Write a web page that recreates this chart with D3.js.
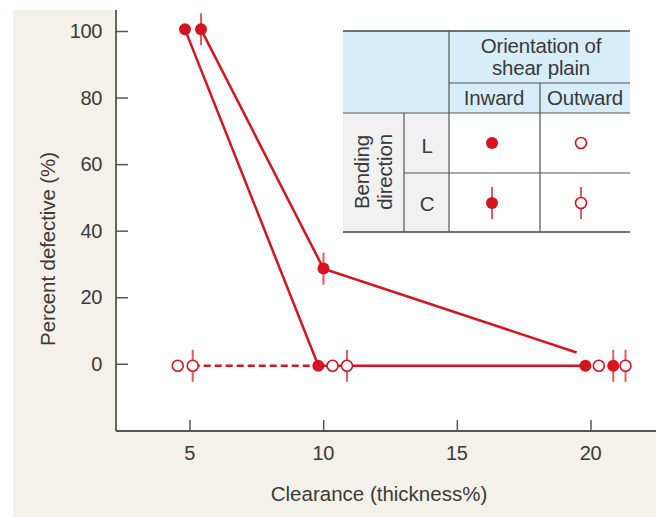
<!DOCTYPE html>
<html>
<head>
<meta charset="utf-8">
<script src="https://cdn.jsdelivr.net/npm/d3@7"></script>
<style>
  html, body { margin: 0; padding: 0; background: #fff; }
  text { font-family: "Liberation Sans", Arial, sans-serif; fill: #3a3a3a; }
</style>
</head>
<body>
<div id="chart"></div>
<script>
// ---- datos ----
const xTicks = [5, 10, 15, 20];
const yTicks = [0, 20, 40, 60, 80, 100];

// [clearance, percent defective]
const inwardL = [[4.83, 100.5], [9.82, -0.6], [19.81, -0.6]];
const inwardC = [[5.43, 100.5], [10.01, 28.6], [20.85, -0.6]];
const inwardCLine = [[5.43, 100.5], [10.01, 28.6], [19.48, 3.4]];
const outwardL = [[4.56, -0.6], [10.35, -0.6], [20.31, -0.6]];
const outwardC = [[5.12, -0.6], [10.89, -0.6], [21.31, -0.6]];
const dashedLine = [[5.12, -0.6], [9.82, -0.6]];

const width = 656;
const height = 517;
const red = "#d4151f";
const barRed = "#e45a66";

const svg = d3.select("#chart")
  .append("svg")
  .attr("width", width)
  .attr("height", height);

// fondo beige y área blanca del gráfico
svg.append("rect")
  .attr("x", 13).attr("y", 10)
  .attr("width", width - 13).attr("height", height - 10)
  .attr("fill", "#f4f1ea");

const plot = { left: 116, right: 656, top: 0, bottom: 431 };

svg.append("rect")
  .attr("x", plot.left).attr("y", plot.top)
  .attr("width", plot.right - plot.left).attr("height", plot.bottom - plot.top)
  .attr("fill", "#fff");

// escalas
const x = d3.scaleLinear().domain([2.25, 22.45]).range([plot.left, plot.right]);
const y = d3.scaleLinear().domain([-20.2, 100]).range([plot.bottom, 31]);

// ejes (marcas hacia dentro)
const yAxis = d3.axisRight(y).tickValues(yTicks).tickSize(12).tickFormat("");
svg.append("g")
  .attr("transform", `translate(${plot.left},0)`)
  .call(yAxis)
  .call(g => g.select(".domain").remove())
  .selectAll("line").attr("stroke", "#555").attr("stroke-width", 1.5);

const xAxis = d3.axisTop(x).tickValues(xTicks).tickSize(11).tickFormat("");
svg.append("g")
  .attr("transform", `translate(0,${plot.bottom})`)
  .call(xAxis)
  .call(g => g.select(".domain").remove())
  .selectAll("line").attr("stroke", "#555").attr("stroke-width", 1.5);

svg.append("line")
  .attr("x1", plot.left).attr("x2", plot.left)
  .attr("y1", 10).attr("y2", plot.bottom)
  .attr("stroke", "#555").attr("stroke-width", 1.8);
svg.append("line")
  .attr("x1", plot.left).attr("x2", plot.right)
  .attr("y1", plot.bottom).attr("y2", plot.bottom)
  .attr("stroke", "#555").attr("stroke-width", 1.8);

// etiquetas de los ejes
svg.selectAll(".ylab")
  .data(yTicks)
  .join("text")
  .attr("x", 102)
  .attr("y", d => y(d))
  .attr("dy", "0.35em")
  .attr("text-anchor", "end")
  .attr("font-size", 20)
  .attr("letter-spacing", -0.4)
  .text(d => d);

svg.selectAll(".xlab")
  .data(xTicks)
  .join("text")
  .attr("x", d => x(d))
  .attr("y", 460)
  .attr("text-anchor", "middle")
  .attr("font-size", 20)
  .attr("letter-spacing", -0.4)
  .text(d => d);

svg.append("text")
  .attr("x", 379).attr("y", 501)
  .attr("text-anchor", "middle")
  .attr("font-size", 20.5)
  .text("Clearance (thickness%)");

svg.append("text")
  .attr("transform", "translate(55,249) rotate(-90)")
  .attr("text-anchor", "middle")
  .attr("font-size", 20.5)
  .attr("letter-spacing", -0.1)
  .text("Percent defective (%)");

// líneas
const line = d3.line().x(d => x(d[0])).y(d => y(d[1]));

svg.append("path").attr("d", line(inwardL))
  .attr("fill", "none").attr("stroke", red).attr("stroke-width", 2.5);
svg.append("path").attr("d", line(inwardCLine))
  .attr("fill", "none").attr("stroke", red).attr("stroke-width", 2.5);
svg.append("path").attr("d", line(dashedLine))
  .attr("fill", "none").attr("stroke", red).attr("stroke-width", 2.5)
  .attr("stroke-dasharray", "7,4");

// marcadores
function drawMarkers(g, data, filled, bar) {
  const sel = g.selectAll(null).data(data).join("g")
    .attr("transform", d => `translate(${x(d[0])},${y(d[1])})`);
  if (bar) {
    sel.append("line")
      .attr("y1", -16).attr("y2", 16)
      .attr("stroke", barRed).attr("stroke-width", 2);
  }
  sel.append("circle")
    .attr("r", filled ? 6 : 5.5)
    .attr("fill", filled ? red : "#fff")
    .attr("stroke", red)
    .attr("stroke-width", filled ? 0 : 1.6);
}

const marks = svg.append("g");
drawMarkers(marks, outwardL, false, false);
drawMarkers(marks, outwardC, false, true);
drawMarkers(marks, inwardL, true, false);
drawMarkers(marks, inwardC, true, true);

// ---- leyenda en forma de tabla ----
const lg = svg.append("g");
lg.append("rect").attr("x", 343).attr("y", 31).attr("width", 287).attr("height", 82).attr("fill", "#d7edf9");
lg.append("rect").attr("x", 343).attr("y", 113).attr("width", 106).attr("height", 119).attr("fill", "#f1f1f1");

const gridLines = [
  [343, 31, 630, 31, "#444", 1.5],
  [343, 113, 630, 113, "#555", 1.2],
  [343, 232, 630, 232, "#444", 1.5],
  [449, 83, 630, 83, "#555", 1.2],
  [404, 173, 630, 173, "#555", 1.2],
  [449, 31, 449, 232, "#555", 1.2],
  [540, 83, 540, 232, "#555", 1.2],
  [404, 113, 404, 232, "#555", 1.2]
];
lg.selectAll("line").data(gridLines).join("line")
  .attr("x1", d => d[0]).attr("y1", d => d[1])
  .attr("x2", d => d[2]).attr("y2", d => d[3])
  .attr("stroke", d => d[4]).attr("stroke-width", d => d[5]);

const legTexts = [
  ["Orientation of", 541, 53],
  ["shear plain", 541, 75],
  ["Inward", 494, 105],
  ["Outward", 585, 105],
  ["L", 427, 153],
  ["C", 427, 211]
];
lg.selectAll(".lt").data(legTexts).join("text")
  .attr("x", d => d[1]).attr("y", d => d[2])
  .attr("text-anchor", "middle")
  .attr("font-size", 20.5)
  .attr("letter-spacing", -0.2)
  .text(d => d[0]);

lg.append("text")
  .attr("transform", "translate(369,172) rotate(-90)")
  .attr("text-anchor", "middle").attr("font-size", 20.5).attr("letter-spacing", -0.2)
  .text("Bending");
lg.append("text")
  .attr("transform", "translate(392,172) rotate(-90)")
  .attr("text-anchor", "middle").attr("font-size", 20.5).attr("letter-spacing", -0.2)
  .text("direction");

const legMarks = [
  { cx: 492, cy: 143, filled: true, bar: false },
  { cx: 581, cy: 143, filled: false, bar: false },
  { cx: 492, cy: 203, filled: true, bar: true },
  { cx: 581, cy: 203, filled: false, bar: true }
];
const lm = lg.selectAll(".lm").data(legMarks).join("g")
  .attr("transform", d => `translate(${d.cx},${d.cy})`);
lm.filter(d => d.bar).append("line")
  .attr("y1", -16).attr("y2", 16)
  .attr("stroke", barRed).attr("stroke-width", 2);
lm.append("circle")
  .attr("r", d => d.filled ? 6 : 5.5)
  .attr("fill", d => d.filled ? red : "#fff")
  .attr("stroke", red)
  .attr("stroke-width", d => d.filled ? 0 : 1.6);
</script>
</body>
</html>
